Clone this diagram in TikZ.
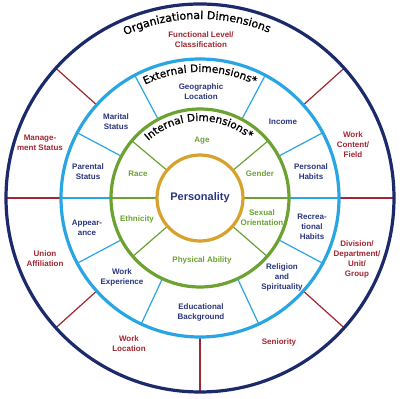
\documentclass[tikz,border=0pt]{standalone}
\usepackage{fontspec}
\setmainfont{Liberation Sans}
\newfontfamily\titlefont[FakeBold=0.9]{DejaVu Sans}
\usepackage{tikz}
\usetikzlibrary{decorations.text}

\definecolor{orgnavy}{HTML}{1B2A6B}
\definecolor{extblue}{HTML}{2AA5E3}
\definecolor{intgreen}{HTML}{6CA232}
\definecolor{coregold}{HTML}{D7A22B}
\definecolor{orgred}{HTML}{A32631}
\definecolor{extnavy}{HTML}{2A3680}

\tikzset{
    ring/.style={line width=3.2pt},
    divider/.style={line width=1.2pt},
    orglabel/.style={text=orgred, align=center, font=\fontsize{8}{10}\selectfont\bfseries},
    extlabel/.style={text=extnavy, align=center, font=\fontsize{8}{10}\selectfont\bfseries},
    intlabel/.style={text=intgreen, align=center, font=\fontsize{8}{10}\selectfont\bfseries},
}

\begin{document}
\begin{tikzpicture}[x=1pt, y=1pt]
    \useasboundingbox (-200,-201) rectangle (200,198);
    \fill[white] (-200,-201) rectangle (200,198);

    \foreach \a in {0,42,138,180,222,270,318}
        \draw[orgred, divider] (\a:139pt) -- (\a:194pt);
    \foreach \a in {0,28,62,118,152,180,208,245,295,332}
        \draw[extblue, divider] (\a:89pt) -- (\a:139pt);
    \foreach \a in {0,40,140,180,221,319}
        \draw[intgreen, divider] (\a:43pt) -- (\a:89pt);

    \draw[orgnavy, ring] (0,0) circle[radius=194pt];
    \draw[extblue, ring] (0,0) circle[radius=139pt];
    \draw[intgreen, ring] (0,0) circle[radius=89pt];
    \draw[coregold, ring] (0,0) circle[radius=43pt];

    \path[decorate, decoration={text along path, text align=center,
        text={|\titlefont\fontsize{11}{13}\selectfont|Organizational Dimensions}}]
        (165:179pt) arc[start angle=165, end angle=17, radius=179pt];
    \path[decorate, decoration={text along path, text align=center,
        text={|\titlefont\fontsize{10.5}{13}\selectfont|External Dimensions*}}]
        (160:126pt) arc[start angle=160, end angle=20, radius=126pt];
    \path[decorate, decoration={text along path, text align=center,
        text={|\titlefont\fontsize{10.5}{13}\selectfont|Internal Dimensions*}}]
        (170:77pt) arc[start angle=170, end angle=12, radius=77pt];

    \node[orglabel] (funclevel) at (1,158) {Functional Level/\\Classification};
    \node[orglabel] (workcontent) at (153,53) {Work\\Content/\\Field};
    \node[orglabel] (division) at (157,-61) {Division/\\Department/\\Unit/\\Group};
    \node[orglabel] (seniority) at (79,-144) {Seniority};
    \node[orglabel] (worklocation) at (-71,-146) {Work\\Location};
    \node[orglabel] (union) at (-155,-61) {Union\\Affiliation};
    \node[orglabel] (management) at (-160,55) {Manage-\\ment Status};

    \node[extlabel] (geographic) at (1,106) {Geographic\\Location};
    \node[extlabel] (income) at (83,76) {Income};
    \node[extlabel] (personalhabits) at (111,26) {Personal\\Habits};
    \node[extlabel] (recreational) at (112,-29) {Recrea-\\tional\\Habits};
    \node[extlabel] (religion) at (82,-79) {Religion\\and\\Spirituality};
    \node[extlabel] (education) at (1,-114) {Educational\\Background};
    \node[extlabel] (workexp) at (-78,-79) {Work\\Experience};
    \node[extlabel] (appearance) at (-113,-30) {Appear-\\ance};
    \node[extlabel] (parental) at (-112,26) {Parental\\Status};
    \node[extlabel] (marital) at (-84,76) {Marital\\Status};

    \node[intlabel] (age) at (2,57) {Age};
    \node[intlabel] (gender) at (60,24) {Gender};
    \node[intlabel] (sexual) at (62,-20) {Sexual\\Orientation};
    \node[intlabel] (physical) at (2,-62) {Physical Ability};
    \node[intlabel] (ethnicity) at (-63,-21) {Ethnicity};
    \node[intlabel] (race) at (-62,24) {Race};

    \node[text=extnavy, font=\fontsize{11}{13}\selectfont\bfseries] (personality) at (0,0) {Personality};
\end{tikzpicture}
\end{document}
